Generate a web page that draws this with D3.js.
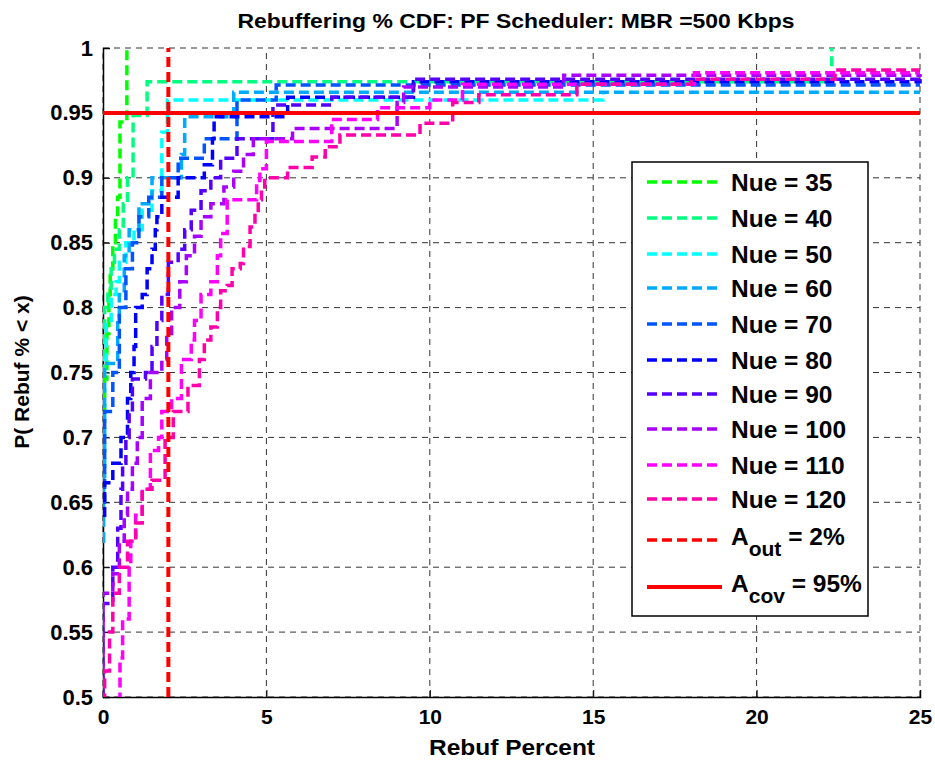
<!DOCTYPE html>
<html><head><meta charset="utf-8">
<script src="https://cdn.jsdelivr.net/npm/d3@7/dist/d3.min.js"></script>
<style>
body{margin:0;background:#fff;}
text{font-family:"Liberation Sans",Arial,Helvetica,sans-serif;font-weight:bold;fill:#000;}
</style>
</head><body>
<svg id="chart" width="935" height="761"></svg>
<script>
// ---------- data ----------
const title = "Rebuffering % CDF: PF Scheduler: MBR =500 Kbps";
const xLabel = "Rebuf Percent";
const yLabel = "P( Rebuf % < x)";
const xTicks = [0, 5, 10, 15, 20, 25];
const yTicks = [0.5, 0.55, 0.6, 0.65, 0.7, 0.75, 0.8, 0.85, 0.9, 0.95, 1];
const yTickLabels = ["0.5","0.55","0.6","0.65","0.7","0.75","0.8","0.85","0.9","0.95","1"];
const seriesNames = ["Nue = 35","Nue = 40","Nue = 50","Nue = 60","Nue = 70","Nue = 80","Nue = 90","Nue = 100","Nue = 110","Nue = 120"];
const seriesColors = ["#00ff00","#00ff80","#00ffff","#00aaff","#0055ff","#0000ff","#5500ff","#aa00ff","#ff00ff","#ff00aa"];

// step points [rebuf %, cumulative probability]
const nue35 = [[0,0.72],[0.05,0.745],[0.12,0.78],[0.18,0.81],[0.22,0.83],[0.3,0.85],[0.38,0.87],[0.45,0.885],[0.52,0.943],[0.73,1.0]];
const nue40 = [[0,0.75],[0.05,0.8],[0.15,0.815],[0.25,0.83],[0.35,0.845],[0.5,0.86],[0.62,0.88],[0.75,0.9],[0.92,0.948],[1.35,0.974],[22.3,1.0]];
const nue50 = [[0,0.76],[0.1,0.79],[0.25,0.81],[0.4,0.82],[0.5,0.835],[0.7,0.85],[0.95,0.86],[1.2,0.875],[1.5,0.89],[1.8,0.935],[1.97,0.96],[15.3,0.965]];
const nue60 = [[0,0.62],[0.02,0.67],[0.05,0.757],[0.45,0.79],[0.5,0.81],[0.65,0.84],[0.8,0.86],[1.1,0.88],[1.5,0.9],[2.4,0.918],[2.5,0.947],[4.0,0.966],[25,0.966]];
const nue70 = [[0,0.65],[0.05,0.72],[0.3,0.75],[0.5,0.8],[0.7,0.83],[0.9,0.85],[1.1,0.87],[1.4,0.885],[1.8,0.9],[2.3,0.915],[3.1,0.93],[4.1,0.96],[5.3,0.9715],[25,0.9715]];
const nue80 = [[0,0.64],[0.05,0.665],[0.3,0.68],[0.55,0.7],[0.75,0.73],[0.85,0.75],[0.95,0.77],[1.0,0.8],[1.2,0.81],[1.35,0.83],[1.5,0.845],[1.6,0.86],[1.65,0.87],[1.8,0.885],[2.3,0.9],[3.1,0.91],[3.35,0.93],[3.4,0.947],[5.65,0.962],[9.5,0.974],[25,0.975]];
const nue90 = [[0,0.5],[0.0,0.572],[0.3,0.6],[0.45,0.63],[0.55,0.66],[0.6,0.68],[0.7,0.7],[0.8,0.72],[0.9,0.745],[1.3,0.75],[1.5,0.77],[1.65,0.79],[1.8,0.81],[2.0,0.835],[2.3,0.845],[2.5,0.86],[2.7,0.875],[3.0,0.89],[3.3,0.9],[3.6,0.915],[4.1,0.93],[5.2,0.956],[7.0,0.962],[9.5,0.976],[25,0.977]];
const nue100 = [[0,0.45],[0.0,0.58],[0.3,0.595],[0.5,0.62],[0.65,0.64],[0.75,0.66],[0.9,0.68],[1.05,0.7],[1.2,0.73],[1.45,0.75],[1.8,0.76],[1.95,0.78],[2.1,0.8],[2.35,0.82],[2.55,0.84],[2.8,0.855],[3.0,0.87],[3.3,0.88],[3.7,0.893],[4.0,0.905],[4.3,0.918],[4.6,0.93],[5.8,0.938],[9.0,0.958],[9.2,0.97],[14.1,0.979],[25,0.98]];
const nue110 = [[0.5,0.45],[0.52,0.53],[0.6,0.56],[0.8,0.6],[0.85,0.62],[1.0,0.64],[1.2,0.66],[1.45,0.69],[1.7,0.7],[1.8,0.72],[2.1,0.73],[2.4,0.76],[2.7,0.775],[2.8,0.79],[3.0,0.81],[3.3,0.82],[3.5,0.84],[3.6,0.857],[3.8,0.883],[4.7,0.898],[4.8,0.907],[5.0,0.928],[7.0,0.945],[8.4,0.954],[10.0,0.96],[11.0,0.972],[18.1,0.981],[25,0.981]];
const nue120 = [[0,0.45],[0.05,0.52],[0.2,0.55],[0.3,0.58],[0.5,0.6],[0.75,0.62],[1.0,0.634],[1.2,0.66],[1.5,0.667],[1.9,0.7],[2.15,0.72],[2.6,0.74],[2.95,0.76],[3.1,0.775],[3.3,0.785],[3.5,0.8],[3.6,0.813],[3.8,0.817],[3.95,0.83],[4.2,0.834],[4.3,0.847],[4.5,0.862],[4.65,0.873],[4.75,0.883],[4.85,0.893],[4.95,0.9],[5.65,0.908],[6.4,0.916],[6.8,0.924],[7.25,0.933],[9.7,0.942],[10.7,0.958],[11.5,0.964],[14.5,0.972],[18.0,0.976],[22.4,0.983],[25,0.983]];
const seriesData = [nue35, nue40, nue50, nue60, nue70, nue80, nue90, nue100, nue110, nue120];

const outageX = 2;      // A_out = 2%
const coverageY = 0.95; // A_cov = 95%
const legendLabels = ["A", "out", " = 2%", "A", "cov", " = 95%"];

// ---------- drawing ----------
const svg = d3.select("#chart");
const x = d3.scaleLinear().domain([0, 25]).range([103, 920]);
const y = d3.scaleLinear().domain([0.5, 1]).range([697, 48]);

svg.append("rect").attr("width", 935).attr("height", 761).attr("fill", "#fff");

svg.append("defs").append("clipPath").attr("id", "plotclip")
  .append("rect").attr("x", x(0)).attr("y", y(1) - 3).attr("width", x(25) - x(0) + 3).attr("height", y(0.5) - y(1) + 3);

// grid
const grid = svg.append("g");
grid.selectAll(".gx").data(xTicks).enter().append("line")
  .attr("x1", d => x(d)).attr("x2", d => x(d)).attr("y1", y(0.5)).attr("y2", y(1))
  .attr("stroke", "#333").attr("stroke-width", 1).attr("stroke-dasharray", "6,5");
grid.selectAll(".gy").data(yTicks).enter().append("line")
  .attr("x1", x(0)).attr("x2", x(25)).attr("y1", d => y(d)).attr("y2", d => y(d))
  .attr("stroke", "#333").attr("stroke-width", 1).attr("stroke-dasharray", "6,5");

// axes
const xAxis = d3.axisBottom(x).tickValues(xTicks).tickSize(-7).tickPadding(12).tickFormat(d3.format("d"));
const yAxis = d3.axisLeft(y).tickValues(yTicks).tickSize(-7).tickPadding(10).tickFormat((d, i) => yTickLabels[i]);
const gx = svg.append("g").attr("transform", `translate(0,${y(0.5)})`).call(xAxis);
const gy = svg.append("g").attr("transform", `translate(${x(0)},0)`).call(yAxis);
[gx, gy].forEach(g => {
  g.select(".domain").attr("stroke", "#000").attr("stroke-width", 1.5);
  g.selectAll(".tick line").attr("stroke", "#000");
  g.selectAll("text").attr("font-size", 21).attr("font-weight", "bold")
    .attr("font-family", '"Liberation Sans",Arial,sans-serif').attr("fill", "#000");
});
gy.selectAll("text").attr("font-size", 22);

// series
const line = d3.line().x(d => x(d[0])).y(d => y(d[1])).curve(d3.curveStepAfter);
const plot = svg.append("g").attr("clip-path", "url(#plotclip)");
seriesData.forEach((data, i) => {
  plot.append("path").datum(data).attr("d", line)
    .attr("fill", "none").attr("stroke", seriesColors[i]).attr("stroke-width", 3.5)
    .attr("stroke-dasharray", "10,5");
});
// reference lines
plot.append("line").attr("x1", x(outageX)).attr("x2", x(outageX)).attr("y1", y(0.5)).attr("y2", y(1))
  .attr("stroke", "#ff0000").attr("stroke-width", 4).attr("stroke-dasharray", "10,5");
plot.append("line").attr("x1", x(0)).attr("x2", x(25)).attr("y1", y(coverageY)).attr("y2", y(coverageY))
  .attr("stroke", "#ff0000").attr("stroke-width", 4);

// title & labels
svg.append("text").attr("x", 516).attr("y", 28).attr("text-anchor", "middle")
  .attr("font-size", 21).attr("textLength", 557).attr("lengthAdjust", "spacingAndGlyphs").text(title);
svg.append("text").attr("x", 512).attr("y", 755).attr("text-anchor", "middle")
  .attr("font-size", 22).attr("textLength", 166).attr("lengthAdjust", "spacingAndGlyphs").text(xLabel);
svg.append("text").attr("transform", "translate(29,372) rotate(-90)").attr("text-anchor", "middle")
  .attr("font-size", 21).text(yLabel);

// legend
const lg = svg.append("g");
lg.append("rect").attr("x", 632).attr("y", 162).attr("width", 236).attr("height", 454)
  .attr("fill", "#fff").attr("stroke", "#000").attr("stroke-width", 1.5);
const rowY = [182, 218, 254, 288, 324, 360, 394, 429, 465, 499];
seriesNames.forEach((n, i) => {
  lg.append("line").attr("x1", 647).attr("x2", 719).attr("y1", rowY[i]).attr("y2", rowY[i])
    .attr("stroke", seriesColors[i]).attr("stroke-width", 3.5).attr("stroke-dasharray", "10,5");
  lg.append("text").attr("x", 731).attr("y", rowY[i] + 9).attr("font-size", 24.5).text(n);
});
lg.append("line").attr("x1", 647).attr("x2", 719).attr("y1", 540).attr("y2", 540)
  .attr("stroke", "#ff0000").attr("stroke-width", 3.5).attr("stroke-dasharray", "10,5");
const t1 = lg.append("text").attr("x", 731).attr("y", 545).attr("font-size", 24.5);
t1.append("tspan").text(legendLabels[0]);
t1.append("tspan").attr("dy", 11).attr("font-size", 21).text(legendLabels[1]);
t1.append("tspan").attr("dy", -11).text(legendLabels[2]);
lg.append("line").attr("x1", 647).attr("x2", 722).attr("y1", 587).attr("y2", 587)
  .attr("stroke", "#ff0000").attr("stroke-width", 4);
const t2 = lg.append("text").attr("x", 731).attr("y", 592).attr("font-size", 24.5);
t2.append("tspan").text(legendLabels[3]);
t2.append("tspan").attr("dy", 11).attr("font-size", 21).text(legendLabels[4]);
t2.append("tspan").attr("dy", -11).text(legendLabels[5]);
</script>
</body></html>
